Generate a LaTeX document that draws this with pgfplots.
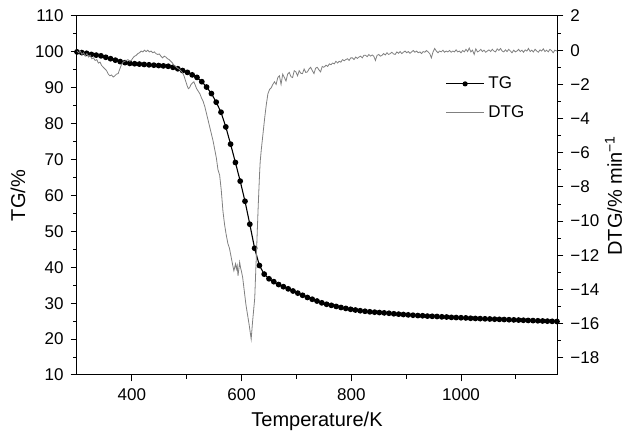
\documentclass[border=0pt]{standalone}
\usepackage{fontspec}
\setmainfont{Liberation Sans}
\usepackage{pgfplots}
\pgfplotsset{compat=1.18}
\usepackage{pgfplotstable}

% TG curve (marker every point)
\pgfplotstableread{
T TG
300 100.0
308.75 99.8
317.5 99.6
326.25 99.3
335 99.1
343.75 98.9
352.5 98.5
361.25 98.1
370 97.7
378.75 97.3
387.5 97.0
396.25 96.8
405 96.7
413.75 96.6
422.5 96.5
431.25 96.4
440 96.3
448.75 96.2
457.5 96.1
466.25 96.0
475 95.7
483.75 95.3
492.5 94.8
501.25 94.3
510 93.6
518.75 92.9
527.5 91.7
536.25 90.2
545 88.4
553.75 86.0
562.5 83.2
571.25 79.1
580 74.3
588.75 69.2
597.5 64.0
606.25 58.4
615 52.0
623.75 45.3
632.5 40.5
641.25 38.1
650 36.8
658.75 36.0
667.5 35.2
676.25 34.6
685 34.0
693.75 33.4
702.5 32.8
711.25 32.2
720 31.6
728.75 31.1
737.5 30.6
746.25 30.1
755 29.7
763.75 29.4
772.5 29.1
781.25 28.8
790 28.55
798.75 28.3
807.5 28.1
816.25 27.9
825 27.75
833.75 27.6
842.5 27.5
851.25 27.4
860 27.3
868.75 27.2
877.5 27.05
886.25 26.95
895 26.85
903.75 26.75
912.5 26.65
921.25 26.55
930 26.5
938.75 26.4
947.5 26.35
956.25 26.3
965 26.2
973.75 26.15
982.5 26.05
991.25 26.0
1000 25.95
1008.75 25.9
1017.5 25.8
1026.25 25.75
1035 25.7
1043.75 25.65
1052.5 25.6
1061.25 25.55
1070 25.5
1078.75 25.45
1087.5 25.4
1096.25 25.35
1105 25.3
1113.75 25.25
1122.5 25.2
1131.25 25.15
1140 25.1
1148.75 25.05
1157.5 25.0
1166.25 24.95
1175 24.9
}\tgdata

% DTG curve
\pgfplotstableread{
T DTG
300 -0.05
303 -0.15
306 -0.05
309 -0.25
312 -0.15
315 -0.35
318 -0.2
321 -0.4
324 -0.3
327 -0.5
330 -0.45
333 -0.6
336 -0.55
339 -0.75
342 -0.7
345 -0.9
348 -1.0
351 -1.1
354 -1.2
357 -1.4
360 -1.5
363 -1.45
366 -1.57
369 -1.5
372 -1.4
375 -1.37
378 -1.1
381 -0.85
384 -0.7
387 -0.65
390 -0.6
393 -0.55
396 -0.65
399 -0.6
402 -0.45
405 -0.35
408 -0.3
411 -0.2
414 -0.15
417 -0.05
420 -0.1
423 0.0
426 -0.08
429 0.0
432 -0.1
435 -0.05
438 -0.15
441 -0.1
444 -0.2
447 -0.25
450 -0.22
453 -0.35
456 -0.45
459 -0.35
462 -0.4
465 -0.5
468 -0.55
471 -0.65
474 -0.75
477 -0.9
480 -0.95
483 -1.05
486 -1.1
489 -1.2
492 -1.3
495 -1.5
498 -1.8
501 -2.1
503 -2.25
505 -2.2
508 -2.0
511 -1.9
513 -1.85
515 -2.0
518 -2.25
521 -2.4
524 -2.55
527 -2.8
530 -3.0
533 -3.3
536 -3.7
539 -4.1
542 -4.5
545 -4.9
548 -5.3
551 -5.8
554 -6.3
557 -7.0
560 -7.3
563 -8.2
566 -9.4
569 -10.2
572 -10.8
575 -11.3
578 -11.6
581 -12.1
584 -12.6
586 -12.9
587.5 -12.7
589 -12.5
590.5 -12.8
592 -12.6
593.5 -13.2
595 -12.8
596.5 -12.4
598 -12.7
599.5 -12.9
602 -13.3
605 -14.1
608 -14.9
611 -15.5
614 -16.1
617.5 -16.9
620 -15.9
622 -15.2
624 -14.5
625.5 -13.2
627 -12.0
628.5 -10.7
630 -9.4
631.5 -8.2
633 -7.1
634 -6.5
636 -5.8
639 -4.9
642 -4.0
645 -3.2
648 -2.55
651 -2.3
654 -2.2
657 -2.0
660 -1.85
663 -2.0
666 -1.6
669 -1.5
672 -2.0
675 -1.4
678 -1.6
681 -1.8
684 -1.4
687 -1.3
690 -1.55
693 -1.6
696 -1.2
699 -1.27
702 -1.5
705 -1.2
708 -1.35
711 -1.37
714 -1.1
717 -1.3
720 -1.27
723 -1.1
726 -1.0
729 -1.2
732 -1.37
735 -1.05
738 -1.0
741 -1.15
744 -1.27
747 -0.95
750 -1.0
754 -0.88
757 -0.95
760 -0.8
763 -0.85
766 -0.75
769 -0.8
772 -0.65
775 -0.75
778 -0.65
781 -0.7
784 -0.55
787 -0.62
790 -0.55
793 -0.5
796 -0.6
799 -0.45
802 -0.45
805 -0.55
808 -0.4
811 -0.48
814 -0.4
817 -0.35
820 -0.45
823 -0.3
826 -0.3
829 -0.38
832 -0.25
835 -0.35
838 -0.28
841 -0.35
844 -0.6
847 -0.3
850 -0.25
853 -0.35
856 -0.3
859 -0.2
862 -0.28
865 -0.15
868 -0.25
871 -0.2
874 -0.12
877 -0.22
880 -0.25
883 -0.1
886 -0.18
889 -0.08
892 -0.2
895 -0.12
898 -0.05
901 -0.15
904 -0.08
907 -0.18
910 -0.1
913 -0.02
916 -0.12
919 -0.05
922 -0.15
925 -0.1
928 -0.2
931 -0.08
934 -0.12
937 -0.02
940 -0.1
943 -0.2
946 -0.45
949 -0.1
952 0.1
955 -0.05
958 -0.15
961 -0.05
964 -0.1
967 0.0
970 -0.12
973 -0.05
976 -0.1
979 -0.02
982 -0.12
985 -0.05
988 -0.1
991 0.02
994 -0.1
997 -0.05
1000 -0.15
1003 -0.02
1006 -0.1
1009 0.05
1012 -0.08
1015 0.12
1018 -0.1
1021 0.0
1024 -0.25
1027 0.08
1030 -0.1
1033 -0.05
1036 0.05
1039 -0.08
1042 0.0
1045 -0.12
1048 -0.05
1051 0.02
1054 -0.08
1057 0.05
1060 -0.05
1063 -0.1
1066 0.08
1069 -0.02
1072 0.1
1075 -0.05
1078 -0.1
1081 0.02
1084 -0.08
1087 0.05
1090 -0.05
1093 -0.15
1096 0.0
1099 -0.1
1102 -0.05
1105 0.05
1108 -0.08
1111 0.0
1114 -0.12
1117 0.02
1120 -0.05
1123 0.1
1126 -0.08
1129 0.0
1132 -0.1
1135 0.05
1138 -0.05
1141 -0.12
1144 0.02
1147 -0.05
1150 0.08
1153 -0.08
1156 0.0
1159 -0.1
1162 0.05
1165 -0.02
1168 -0.15
1171 0.0
1175 -0.05
}\dtgdata

\begin{document}
\begin{tikzpicture}
\pgfplotsset{
  every axis/.append style={
    scale only axis,
    width=240pt, height=179.5pt,
    xmin=300, xmax=1175,
    axis line style={line width=0.5pt},
    tick align=outside,
    major tick length=3.2pt,
    minor tick length=1.8pt,
    every tick/.style={black, line width=0.5pt},
    tick label style={font=\fontsize{8.5}{10}\selectfont},
    label style={font=\fontsize{10}{12}\selectfont},
    /pgf/number format/assume math mode=true,
  },
}
\begin{axis}[
  name=ax,
  ymin=10, ymax=110,
  ytick={10,20,...,110},
  minor ytick={15,25,...,105},
  xtick={400,600,800,1000},
  minor xtick={500,700,900,1100},
  xtick pos=bottom, ytick pos=left,
  xlabel={Temperature/K},
  ylabel={TG/\%},
  ylabel style={yshift=-2pt},
  xlabel style={yshift=1pt},
  /pgf/number format/1000 sep={},
]
\addplot[black, line width=0.55pt, mark=*, mark size=1.15pt] table[x=T, y=TG] {\tgdata};
\end{axis}
\begin{axis}[
  axis y line*=right,
  axis x line=none,
  ymin=-19, ymax=2,
  ytick={-18,-16,...,2},
  yticklabels={−18,−16,−14,−12,−10,−8,−6,−4,−2,0,2},
  minor ytick={-17,-15,...,1},
  ylabel={DTG/\% min\textsuperscript{−1}},
  ylabel style={yshift=4pt},
  legend style={at={(0.755,0.855)}, anchor=north west, draw=none, fill=none,
    font=\fontsize{8.5}{10}\selectfont, row sep=3pt},
  legend cell align=left,
  every axis legend/.append style={legend image code/.code={
    \draw[#1, mark repeat=2, mark phase=2] plot coordinates {(0cm,0cm) (0.33cm,0cm) (0.66cm,0cm)};}},
]
\addlegendimage{black, line width=0.55pt, mark=*, mark size=1.0pt}
\addlegendentry{TG}
\addplot[gray, line width=0.4pt] table[x=T, y=DTG] {\dtgdata};
\addlegendentry{DTG}
\end{axis}
\path (ax.south west) ++(-38.5pt,-31.5pt) rectangle ++(319pt,219pt);
\end{tikzpicture}
\end{document}
